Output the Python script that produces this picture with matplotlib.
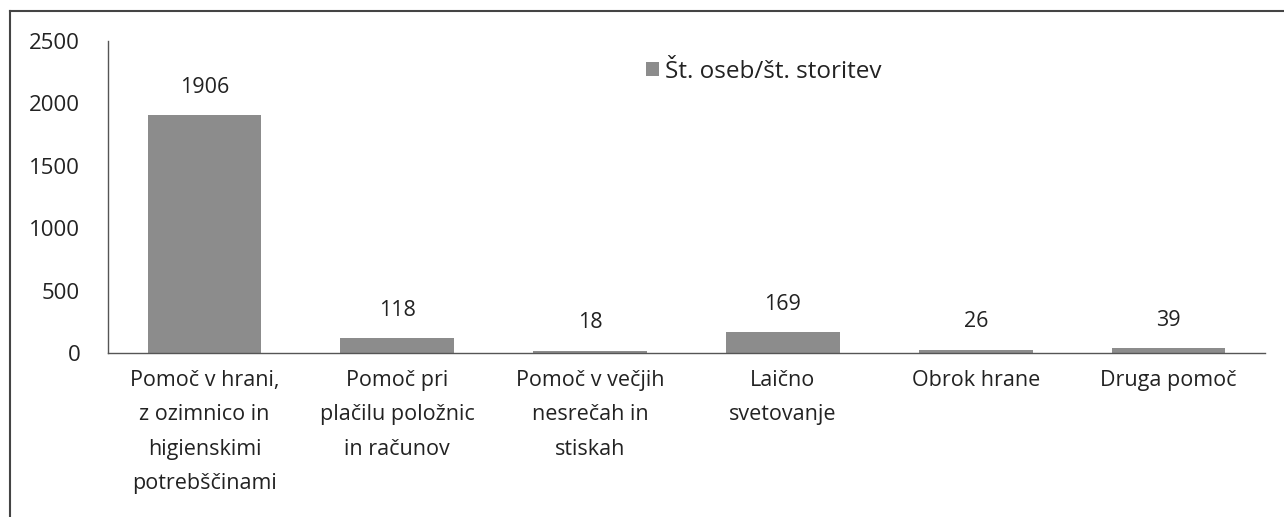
import matplotlib
matplotlib.use("Agg")
import matplotlib.pyplot as plt
from matplotlib.lines import Line2D

categories = [
    "Pomoč v hrani,\nz ozimnico in\nhigienskimi\npotrebščinami",
    "Pomoč pri\nplačilu položnic\nin računov",
    "Pomoč v večjih\nnesrečah in\nstiskah",
    "Laično\nsvetovanje",
    "Obrok hrane",
    "Druga pomoč",
]
values = [1906, 118, 18, 169, 26, 39]
series_name = "Št. oseb/št. storitev"
yticks = [0, 500, 1000, 1500, 2000, 2500]

plt.rcParams['font.family'] = ['Open Sans', 'DejaVu Sans']

fig = plt.figure(figsize=(12.84, 5.17), dpi=100)
ax = fig.add_axes([108/1284, 1-353/517, (1265-108)/1284, (353-41)/517])

bar_color = "#8c8c8c"
text_color = "#222222"
x = list(range(len(categories)))
ax.bar(x, values, width=0.59, color=bar_color, label=series_name)

for xi, v in zip(x, values):
    ax.annotate(str(v), (xi, v), xytext=(0, 20), textcoords="offset points",
                ha="center", va="center", fontsize=15.5, color=text_color)

ax.set_xlim(-0.5, len(categories) - 0.5)
ax.set_ylim(0, 2500)
ax.set_yticks(yticks)
ax.set_yticklabels([str(t) for t in yticks], fontsize=16, color=text_color)
ax.set_xticks(x)
ax.set_xticklabels(categories, fontsize=15.5, color=text_color, linespacing=1.85)
ax.tick_params(axis="x", length=0, pad=12)
ax.tick_params(axis="y", length=0, pad=20)
for s in ["top", "right"]:
    ax.spines[s].set_visible(False)
for s in ["left", "bottom"]:
    ax.spines[s].set_color("#555555")
    ax.spines[s].set_linewidth(1.0)

leg = ax.legend(loc="center left", bbox_to_anchor=(0.465, 0.902), frameon=False,
                fontsize=17.5, handlelength=0.55, handleheight=0.55, handletextpad=0.25,
                borderpad=0, borderaxespad=0)
for t in leg.get_texts():
    t.set_color(text_color)

# outer frame (top and left border)
fig.add_artist(Line2D([10/1284, 1], [1-11/517, 1-11/517], transform=fig.transFigure,
                      color="#444444", linewidth=1.5))
fig.add_artist(Line2D([10/1284, 10/1284], [0, 1-11/517], transform=fig.transFigure,
                      color="#444444", linewidth=1.5))

fig.savefig("out.png", dpi=100)
